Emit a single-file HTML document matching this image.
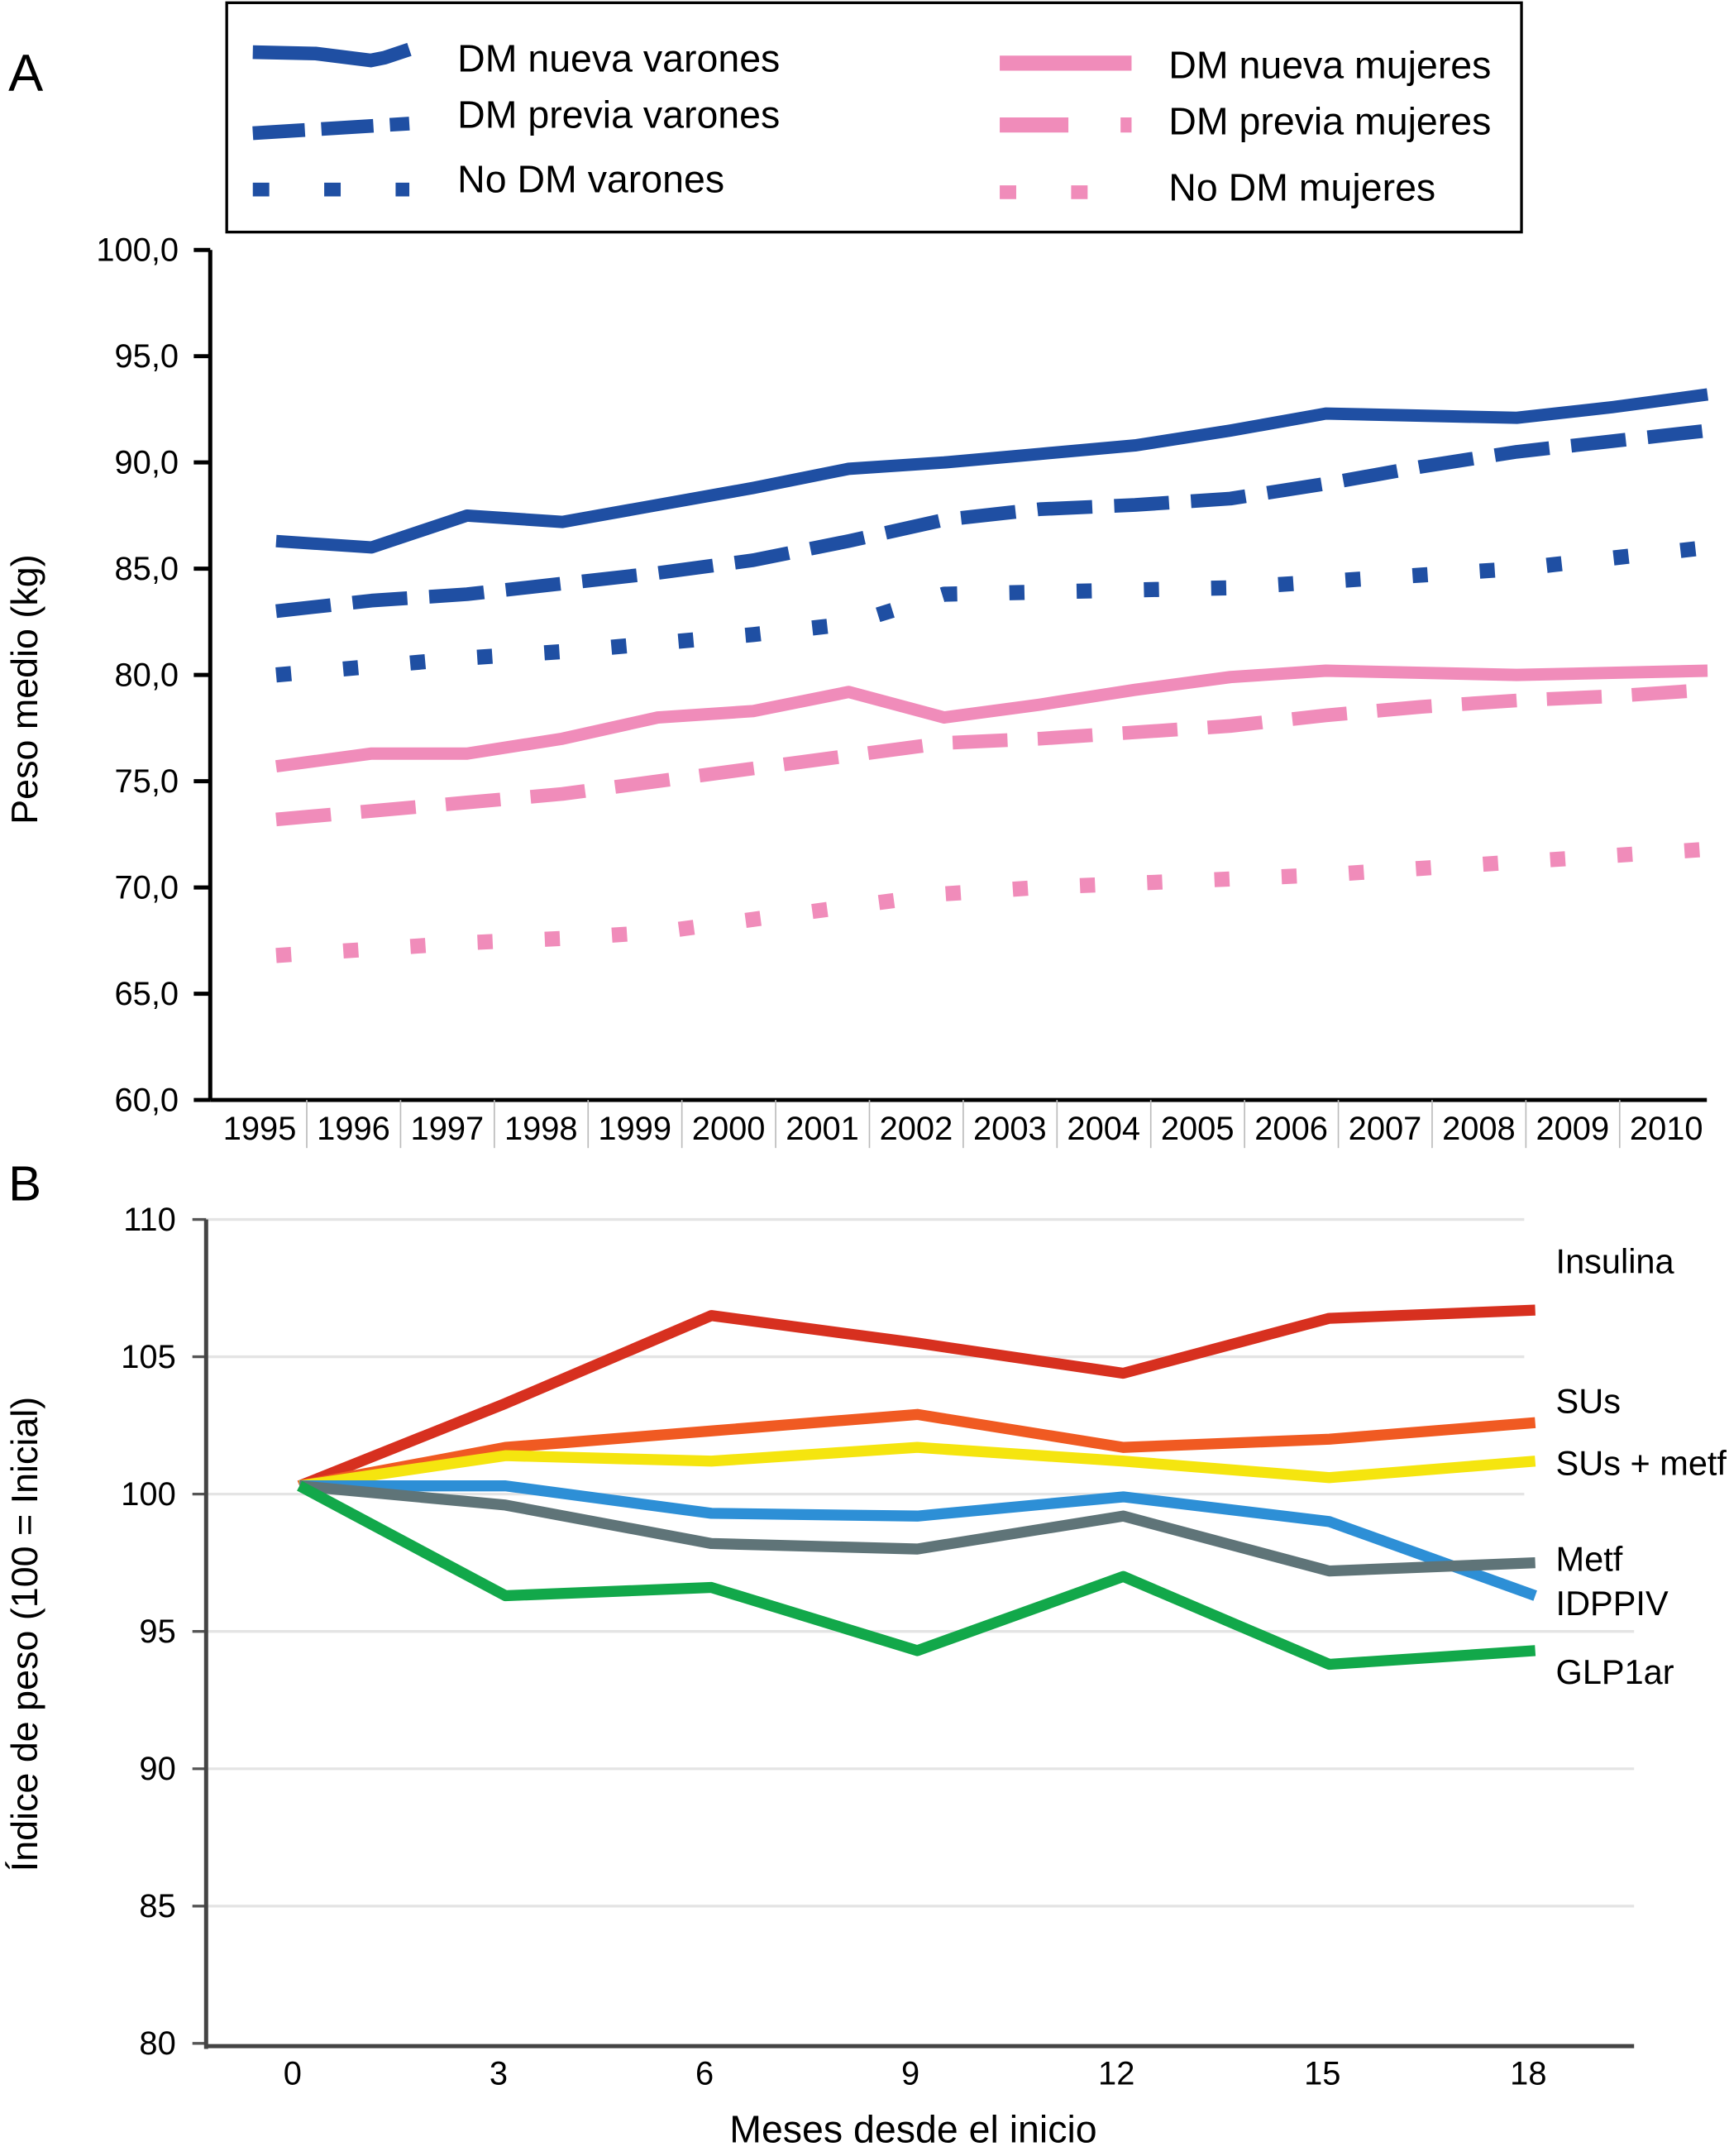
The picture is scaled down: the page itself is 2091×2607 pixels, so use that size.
<!DOCTYPE html>
<html><head><meta charset="utf-8"><style>
html,body{margin:0;padding:0;background:#fff;}
svg{display:block;font-family:"Liberation Sans",Arial,sans-serif;}
</style></head><body>
<svg id="c" width="2091" height="2607" viewBox="0 0 1259 1570">
<text x="6" y="66" font-size="38">A</text>
<g>
<rect x="165" y="2" width="943" height="167" fill="#fff" stroke="#000" stroke-width="2"/>
<path d="M184 38 L230 39 L270 44 L280 42 L298 36" stroke="#1f4fa3" stroke-width="10" fill="none"/>
<line x1="184" y1="97" x2="298" y2="90" stroke="#1f4fa3" stroke-width="10" stroke-dasharray="38,12"/>
<line x1="184" y1="138" x2="298" y2="138" stroke="#1f4fa3" stroke-width="10" stroke-dasharray="12,40"/>
<text x="333" y="52" font-size="28">DM nueva varones</text>
<text x="333" y="93" font-size="28">DM previa varones</text>
<text x="333" y="140" font-size="28">No DM varones</text>
<line x1="728" y1="46" x2="824" y2="46" stroke="#f08cba" stroke-width="11"/>
<line x1="728" y1="91" x2="824" y2="91" stroke="#f08cba" stroke-width="11" stroke-dasharray="50,38"/>
<line x1="728" y1="140" x2="800" y2="140" stroke="#f08cba" stroke-width="10" stroke-dasharray="12,40"/>
<text x="851" y="57" font-size="28">DM nueva mujeres</text>
<text x="851" y="98" font-size="28">DM previa mujeres</text>
<text x="851" y="146" font-size="28">No DM mujeres</text>
</g>
<g id="ga"></g>
<text x="6" y="874" font-size="36">B</text>
<g id="gb"></g>
<text transform="translate(27,502) rotate(-90)" text-anchor="middle" font-size="27">Peso medio (kg)</text>
<text transform="translate(27,1190) rotate(-90)" text-anchor="middle" font-size="27">Índice de peso (100 = Inicial)</text>
<text x="665" y="1560" text-anchor="middle" font-size="28">Meses desde el inicio</text>
</svg>
<script>
const years=["1995","1996","1997","1998","1999","2000","2001","2002","2003","2004","2005","2006","2007","2008","2009","2010"];
const ticksA=[60,65,70,75,80,85,90,95,100];
const nuevaV=[86.3,86.0,87.5,87.2,88.0,88.8,89.7,90.0,90.4,90.8,91.5,92.3,92.2,92.1,92.6,93.2];
const previaV=[83.0,83.5,83.8,84.3,84.8,85.4,86.3,87.3,87.8,88.0,88.3,89.0,89.8,90.5,91.0,91.5];
const noDmV=[80.0,80.4,80.8,81.1,81.5,81.9,82.4,83.8,83.9,84.0,84.1,84.4,84.7,85.0,85.5,86.0];
const nuevaM=[75.7,76.3,76.3,77.0,78.0,78.3,79.2,78.0,78.6,79.3,79.9,80.2,80.1,80.0,80.1,80.2];
const previaM=[73.2,73.6,74.0,74.4,75.0,75.6,76.2,76.8,77.0,77.3,77.6,78.1,78.5,78.8,79.0,79.3];
const noDmM=[66.8,67.1,67.4,67.6,67.9,68.5,69.1,69.7,70.0,70.2,70.4,70.6,70.9,71.2,71.5,71.8];
const months=[0,3,6,9,12,15,18];
const ticksB=[80,85,90,95,100,105,110];
const insulina=[100.3,103.3,106.5,105.5,104.4,106.4,106.7];
const sus=[100.3,101.7,102.3,102.9,101.7,102.0,102.6];
const susMetf=[100.3,101.4,101.2,101.7,101.2,100.6,101.2];
const idppiv=[100.3,100.3,99.3,99.2,99.9,99.0,96.3];
const metf=[100.3,99.6,98.2,98.0,99.2,97.2,97.5];
const glp1=[100.3,96.3,96.6,94.3,97.0,93.8,94.3];

const NS="http://www.w3.org/2000/svg";
function mk(t,a,p){const e=document.createElementNS(NS,t);for(const k in a)e.setAttribute(k,a[k]);p.appendChild(e);return e;}
// Chart A
const ga=document.getElementById('ga');
const xA=i=>201+i*69.5, xLab=i=>189+i*68.3, yA=v=>801-(v-60)*(619/40);
mk('line',{x1:153,y1:182,x2:153,y2:801,stroke:'#000','stroke-width':3},ga);
mk('line',{x1:153,y1:801,x2:1243,y2:801,stroke:'#000','stroke-width':3},ga);
ticksA.forEach(t=>{
 mk('line',{x1:141,y1:yA(t),x2:153,y2:yA(t),stroke:'#000','stroke-width':3},ga);
 const tx=mk('text',{x:130,y:yA(t)+8,'text-anchor':'end','font-size':24},ga);tx.textContent=t.toFixed(1).replace('.',',');
 
 
});
years.forEach((y,i)=>{
 if(i>0) mk('line',{x1:xLab(i)-34,y1:801,x2:xLab(i)-34,y2:836,stroke:'#bbb','stroke-width':1},ga);
 const tx=mk('text',{x:xLab(i),y:830,'text-anchor':'middle','font-size':24},ga);tx.textContent=y;
 
 
});
function lineA(d,col,dash,name,w){
 const p=mk('polyline',{points:d.map((v,i)=>xA(i)+','+yA(v)).join(' '),fill:'none',stroke:col,'stroke-width':w||9,'stroke-linejoin':'round'},ga);
 if(dash)p.setAttribute('stroke-dasharray',dash);
 
 
}
lineA(nuevaV,'#1f4fa3',null,'line-dm-nueva-varones');
lineA(previaV,'#1f4fa3','40,16','line-dm-previa-varones',10);
lineA(noDmV,'#1f4fa3','11,38','line-no-dm-varones',11);
lineA(nuevaM,'#f08cba',null,'line-dm-nueva-mujeres');
lineA(previaM,'#f08cba','40,22','line-dm-previa-mujeres',10);
lineA(noDmM,'#f08cba','11,38','line-no-dm-mujeres',11);
// Chart B
const gb=document.getElementById('gb');
const xB=m=>218+m*50, yB=v=>1488-(v-80)*20;
ticksB.forEach(t=>{
 if(t>80) mk('line',{x1:150,y1:yB(t),x2:t>=100?1110:1190,y2:yB(t),stroke:'#e4e4e4','stroke-width':2},gb);
 mk('line',{x1:140,y1:yB(t),x2:150,y2:yB(t),stroke:'#555','stroke-width':2},gb);
 const tx=mk('text',{x:128,y:yB(t)+8,'text-anchor':'end','font-size':24},gb);tx.textContent=t;
 
 
});
mk('line',{x1:150,y1:888,x2:150,y2:1492,stroke:'#444','stroke-width':3},gb);
mk('line',{x1:150,y1:1490,x2:1190,y2:1490,stroke:'#444','stroke-width':3},gb);
months.forEach(m=>{
 const tx=mk('text',{x:xB(m)-5,y:1518,'text-anchor':'middle','font-size':24},gb);tx.textContent=m;
 
 
});
function lineB(d,col,name,label,ly){
 const p=mk('polyline',{points:d.map((v,i)=>xB(months[i])+','+yB(v)).join(' '),fill:'none',stroke:col,'stroke-width':8,'stroke-linejoin':'round'},gb);
 
 
 const tx=mk('text',{x:1133,y:ly,'font-size':25},gb);tx.textContent=label;
 
 
}
lineB(insulina,'#d7301f','line-insulina','Insulina',927);
lineB(sus,'#f05a22','line-sus','SUs',1029);
lineB(susMetf,'#f5e50f','line-sus-metf','SUs + metf',1074);
lineB(idppiv,'#2d8fd6','line-idppiv','IDPPIV',1176);
lineB(metf,'#5f7478','line-metf','Metf',1144);
lineB(glp1,'#12a84a','line-glp1ar','GLP1ar',1226);
</script>
</body></html>
